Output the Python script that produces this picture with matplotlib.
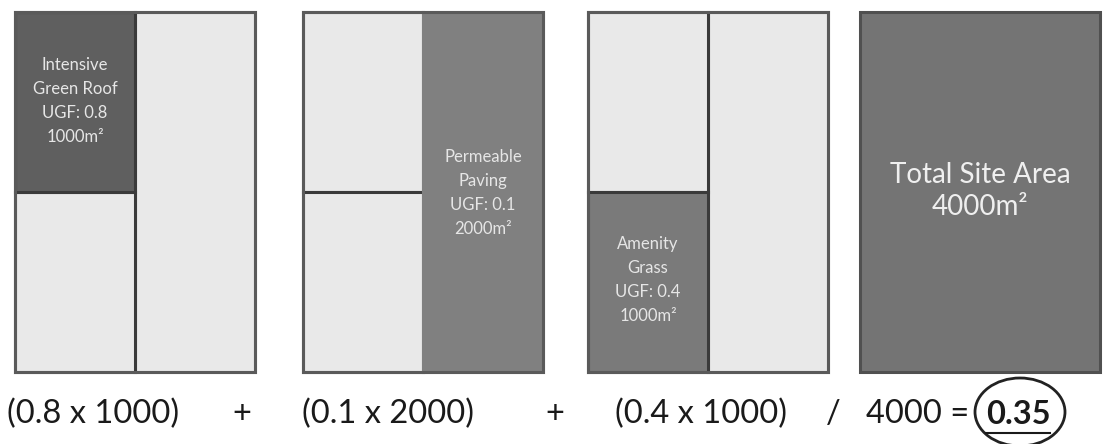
import matplotlib.pyplot as plt
from matplotlib.patches import Rectangle, Ellipse

plt.rcParams['font.family'] = ['Lato', 'DejaVu Sans']

# Surfaces vertes : libellé, facteur UGF, surface (m²)
labels = ["Intensive\nGreen Roof", "Permeable\nPaving", "Amenity\nGrass"]
ugf = [0.8, 0.1, 0.4]
areas = [1000, 2000, 1000]
site_area = 4000
score = sum(u * a for u, a in zip(ugf, areas)) / site_area

# Position des panneaux (pixels)
panel_x = [15, 303, 588, 860]
panel_y = 12
PW, PH = 240, 360
# Case occupée par chaque surface : (colonne, ligne, largeur, hauteur) en demi-panneaux
cells = [(0, 0, 1, 1), (1, 0, 1, 2), (0, 1, 1, 1)]
dark = ["#5f5f5f", "#808080", "#7a7a7a"]
light = "#e9e9e9"
text_y = [101, 193, 280]

fig = plt.figure(figsize=(11.11, 4.44), dpi=100)
ax = fig.add_axes([0, 0, 1, 1])
ax.set_xlim(0, 1111)
ax.set_ylim(444, 0)
ax.axis("off")

all_quarters = [(0, 0), (0, 1), (1, 0), (1, 1)]
for i in range(3):
    x0 = panel_x[i]
    c, r, w, h = cells[i]
    used = {(c + dc, r + dr) for dc in range(w) for dr in range(h)}
    # cases vides : colonne gauche en cases simples, colonne droite entière si libre
    free = [q for q in all_quarters if q not in used]
    blocks = []
    if (1, 0) in free and (1, 1) in free:
        blocks.append((1, 0, 1, 2))
        free = [q for q in free if q[0] == 0]
    blocks += [(qc, qr, 1, 1) for qc, qr in free]
    for bc, br, bw, bh in blocks:
        ec = "#3a3a3a" if bc == 0 else "#6e6e6e"
        ax.add_patch(Rectangle((x0 + bc * PW / 2, panel_y + br * PH / 2), bw * PW / 2, bh * PH / 2,
                               facecolor=light, edgecolor=ec, lw=2.2, zorder=2))
    ax.add_patch(Rectangle((x0 + c * PW / 2, panel_y + r * PH / 2), w * PW / 2, h * PH / 2,
                           facecolor=dark[i], edgecolor="#3a3a3a" if c == 0 else dark[i], lw=2.2, zorder=2))
    ax.add_patch(Rectangle((x0, panel_y), PW, PH, facecolor="none", edgecolor="#5a5a5a", lw=2.2, zorder=3))
    # texte dans la case colorée
    tx = x0 + (c + w / 2) * PW / 2
    ax.text(tx, text_y[i], f"{labels[i]}\nUGF: {ugf[i]}\n{areas[i]}m²", ha="center", va="center",
            color="#e6e6e6", fontsize=12, linespacing=1.6, zorder=4)

# Panneau surface totale
x0 = panel_x[3]
ax.add_patch(Rectangle((x0, panel_y), PW, PH, facecolor="#747474", edgecolor="#505050", lw=2.2, zorder=2))
ax.text(x0 + PW / 2, 191, f"Total Site Area\n{site_area}m²", ha="center", va="center",
        color="#efefef", fontsize=20, linespacing=1.25, zorder=4)

# Formule
fy = 414
fs = 23.5
terms_x = [93, 388, 701]
for i in range(3):
    ax.text(terms_x[i], fy, f"({ugf[i]} x {areas[i]})", ha="center", va="center", fontsize=fs, color="#1a1a1a")
for px in [242, 555]:
    ax.text(px, fy, "+", ha="center", va="center", fontsize=fs, color="#1a1a1a")
ax.text(833, fy, "/", ha="center", va="center", fontsize=fs, color="#1a1a1a")
ax.text(918, fy, f"{site_area} =", ha="center", va="center", fontsize=fs, color="#1a1a1a")
ax.text(1018, fy, f"{score:.2f}", ha="center", va="center", fontsize=fs, fontweight="bold", color="#1a1a1a")
ax.plot([986, 1050], [433, 433], color="#1a1a1a", lw=1.5)
ax.add_patch(Ellipse((1020, 412), 90, 68, facecolor="none", edgecolor="#222222", lw=2))

fig.savefig("out.png", dpi=100)
